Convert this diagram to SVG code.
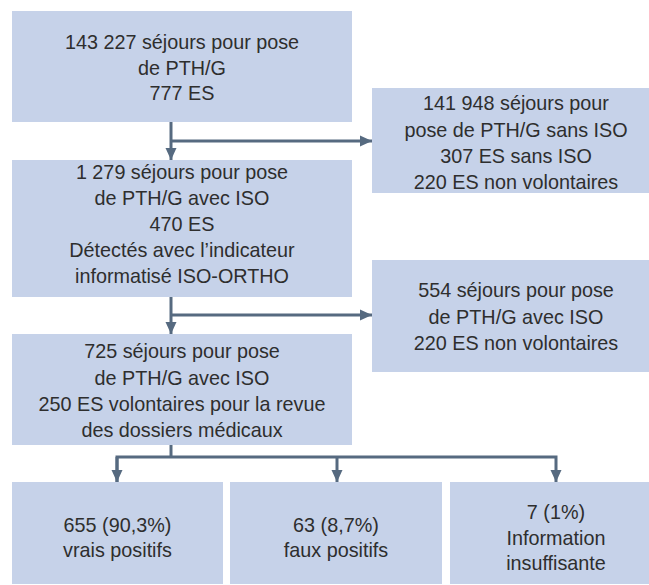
<svg xmlns="http://www.w3.org/2000/svg" width="649" height="585" viewBox="0 0 649 585">
<style>
.box{fill:#c6d2e9}
.t{font-family:"Liberation Sans",Arial,sans-serif;font-size:19.8px;fill:#2e2e2e;text-anchor:middle}
.c{stroke:#566a80;stroke-width:3;fill:none}
</style>
<defs>
<marker id="ah" markerUnits="userSpaceOnUse" markerWidth="12" markerHeight="12" viewBox="0 0 12 12" refX="12" refY="6" orient="auto">
<path d="M0,0.5 L12,6 L0,11.5 Z" fill="#566a80"/>
</marker>
</defs>
<rect width="649" height="585" fill="#ffffff"/>
<g id="n1"><rect class="box" x="12" y="11" width="340" height="111"/>
<text class="t" x="182" y="49">143 227 séjours pour pose</text>
<text class="t" x="182" y="75">de PTH/G</text>
<text class="t" x="182" y="100">777 ES</text></g>
<g id="n2"><rect class="box" x="372" y="88" width="277" height="105"/>
<text class="t" x="516" y="110">141 948 séjours pour</text>
<text class="t" x="516" y="137">pose de PTH/G sans ISO</text>
<text class="t" x="516" y="163">307 ES sans ISO</text>
<text class="t" x="516" y="189">220 ES non volontaires</text></g>
<g id="n3"><rect class="box" x="12" y="160" width="340" height="137"/>
<text class="t" x="182" y="179">1 279 séjours pour pose</text>
<text class="t" x="182" y="205">de PTH/G avec ISO</text>
<text class="t" x="182" y="231">470 ES</text>
<text class="t" x="182" y="257">Détectés avec l’indicateur</text>
<text class="t" x="182" y="283">informatisé ISO-ORTHO</text></g>
<g id="n4"><rect class="box" x="372" y="260" width="277" height="112"/>
<text class="t" x="516" y="297">554 séjours pour pose</text>
<text class="t" x="516" y="324">de PTH/G avec ISO</text>
<text class="t" x="516" y="350">220 ES non volontaires</text></g>
<g id="n5"><rect class="box" x="12" y="334" width="340" height="111"/>
<text class="t" x="182" y="358">725 séjours pour pose</text>
<text class="t" x="182" y="385">de PTH/G avec ISO</text>
<text class="t" x="182" y="411">250 ES volontaires pour la revue</text>
<text class="t" x="182" y="437">des dossiers médicaux</text></g>
<g id="n6"><rect class="box" x="12" y="482" width="211" height="102"/>
<text class="t" x="117.5" y="532">655 (90,3%)</text>
<text class="t" x="117.5" y="557">vrais positifs</text></g>
<g id="n7"><rect class="box" x="230" y="482" width="212" height="102"/>
<text class="t" x="336" y="532">63 (8,7%)</text>
<text class="t" x="336" y="557">faux positifs</text></g>
<g id="n8"><rect class="box" x="450" y="482" width="199" height="102"/>
<text class="t" x="556" y="519">7 (1%)</text>
<text class="t" x="556" y="545">Information</text>
<text class="t" x="556" y="570">insuffisante</text></g>
<g id="connectors">
<path class="c" d="M171,122 V160" marker-end="url(#ah)"/>
<path class="c" d="M171,141 H372" marker-end="url(#ah)"/>
<path class="c" d="M171,297 V334" marker-end="url(#ah)"/>
<path class="c" d="M171,315 H372" marker-end="url(#ah)"/>
<path class="c" d="M171,445 V457"/>
<path class="c" d="M117,482 V457 H556 V482" marker-end="url(#ah)"/>
<path class="c" d="M117,457 V482" marker-end="url(#ah)"/>
<path class="c" d="M337,457 V482" marker-end="url(#ah)"/>
</g>
</svg>
